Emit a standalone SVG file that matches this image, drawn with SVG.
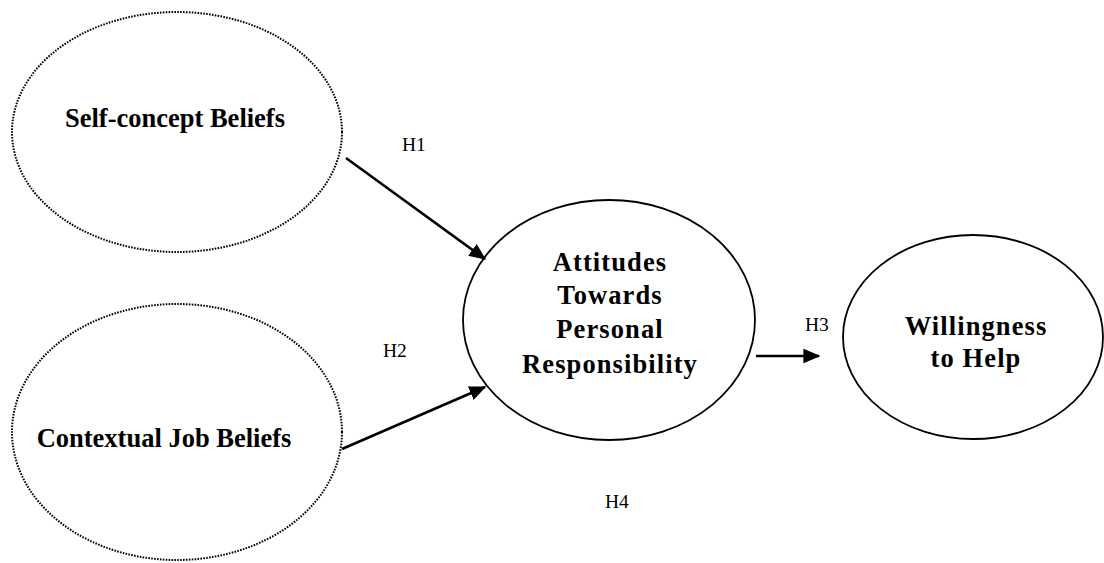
<svg xmlns="http://www.w3.org/2000/svg" width="1104" height="563" viewBox="0 0 1104 563">
  <style>
    .dotted { fill: none; stroke: #000; stroke-width: 2; stroke-dasharray: 1.6 1.3; }
    .solid { fill: none; stroke: #000; stroke-width: 1.8; }
    .label { font-family: "Liberation Serif", "Times New Roman", serif; font-weight: bold; font-size: 26.5px; fill: #000; text-anchor: middle; }
    .spaced { letter-spacing: 1.1px; }
    .hyp { font-family: "Liberation Serif", "Times New Roman", serif; font-size: 19.5px; fill: #000; }
    .conn { stroke: #000; stroke-width: 2.6; fill: none; }
  </style>
  <defs>
    <marker id="arrow" markerWidth="6.5" markerHeight="5.6" refX="6" refY="2.8" orient="auto" markerUnits="strokeWidth">
      <path d="M0,0 L6.5,2.8 L0,5.6 Z" fill="#000"/>
    </marker>
  </defs>
  <rect width="1104" height="563" fill="#fff"/>

  <g id="self-concept">
    <ellipse class="dotted" cx="177" cy="132" rx="165" ry="120"/>
    <text class="label" x="175" y="127">Self-concept Beliefs</text>
  </g>

  <g id="contextual">
    <ellipse class="dotted" cx="177" cy="432" rx="165" ry="128"/>
    <text class="label" x="164" y="447">Contextual Job Beliefs</text>
  </g>

  <g id="attitudes">
    <ellipse class="solid" cx="609" cy="320" rx="146" ry="120"/>
    <text class="label spaced" x="610" y="271">Attitudes</text>
    <text class="label spaced" x="610" y="304">Towards</text>
    <text class="label spaced" x="610" y="338">Personal</text>
    <text class="label spaced" x="610" y="373">Responsibility</text>
  </g>

  <g id="willingness">
    <ellipse class="solid" cx="973" cy="337" rx="130" ry="102"/>
    <text class="label spaced" x="976" y="335">Willingness</text>
    <text class="label spaced" x="976" y="367">to Help</text>
  </g>

  <g id="connectors">
    <line class="conn" x1="346" y1="158" x2="485" y2="259" marker-end="url(#arrow)"/>
    <line class="conn" x1="342" y1="449" x2="485" y2="387" marker-end="url(#arrow)"/>
    <line class="conn" x1="756" y1="356" x2="819" y2="356" marker-end="url(#arrow)"/>
  </g>

  <g id="labels">
    <text class="hyp" x="402" y="151">H1</text>
    <text class="hyp" x="383" y="357">H2</text>
    <text class="hyp" x="805" y="331">H3</text>
    <text class="hyp" x="605" y="508">H4</text>
  </g>
</svg>
